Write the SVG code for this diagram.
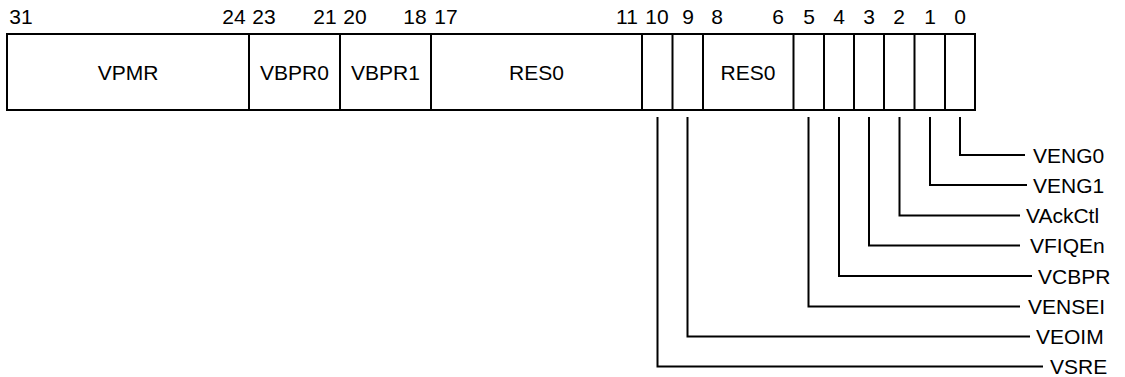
<svg xmlns="http://www.w3.org/2000/svg" width="1125" height="377" viewBox="0 0 1125 377">
<style>
.box{fill:#fff;stroke:#000;stroke-width:2}
.div{stroke:#000;stroke-width:2}
.num{font-family:"Liberation Sans",Arial,sans-serif;font-size:21px;text-anchor:middle;fill:#000}
.lbl{font-family:"Liberation Sans",Arial,sans-serif;font-size:21px;text-anchor:middle;fill:#000}
.fl{font-family:"Liberation Sans",Arial,sans-serif;font-size:21px;fill:#000}
.conn{fill:none;stroke:#000;stroke-width:2}
</style>
<rect width="1125" height="377" fill="#fff"/>
<g id="bitnumbers">
<text class="num" x="21" y="24">31</text>
<text class="num" x="234" y="24">24</text>
<text class="num" x="264" y="24">23</text>
<text class="num" x="325" y="24">21</text>
<text class="num" x="355" y="24">20</text>
<text class="num" x="415" y="24">18</text>
<text class="num" x="446" y="24">17</text>
<text class="num" x="627" y="24">11</text>
<text class="num" x="657" y="24">10</text>
<text class="num" x="688" y="24">9</text>
<text class="num" x="717" y="24">8</text>
<text class="num" x="778" y="24">6</text>
<text class="num" x="809" y="24">5</text>
<text class="num" x="839" y="24">4</text>
<text class="num" x="869" y="24">3</text>
<text class="num" x="899" y="24">2</text>
<text class="num" x="930" y="24">1</text>
<text class="num" x="960" y="24">0</text>
</g>
<g id="register">
<rect class="box" x="7" y="34" width="968" height="76"/>
<line class="div" x1="249" y1="34" x2="249" y2="110"/>
<line class="div" x1="340" y1="34" x2="340" y2="110"/>
<line class="div" x1="431" y1="34" x2="431" y2="110"/>
<line class="div" x1="642" y1="34" x2="642" y2="110"/>
<line class="div" x1="672.5" y1="34" x2="672.5" y2="110"/>
<line class="div" x1="703" y1="34" x2="703" y2="110"/>
<line class="div" x1="793.5" y1="34" x2="793.5" y2="110"/>
<line class="div" x1="824" y1="34" x2="824" y2="110"/>
<line class="div" x1="854" y1="34" x2="854" y2="110"/>
<line class="div" x1="884" y1="34" x2="884" y2="110"/>
<line class="div" x1="914.5" y1="34" x2="914.5" y2="110"/>
<line class="div" x1="945" y1="34" x2="945" y2="110"/>
</g>
<g id="field-VPMR"><text class="lbl" x="128" y="80">VPMR</text></g>
<g id="field-VBPR0"><text class="lbl" x="294.5" y="80">VBPR0</text></g>
<g id="field-VBPR1"><text class="lbl" x="385.5" y="80">VBPR1</text></g>
<g id="field-RES0-a"><text class="lbl" x="536.5" y="80">RES0</text></g>
<g id="field-RES0-b"><text class="lbl" x="748" y="80">RES0</text></g>
<g id="connectors">
<polyline class="conn" points="960,117 960,155 1025,155"/>
<polyline class="conn" points="930,117 930,185 1027,185"/>
<polyline class="conn" points="899.5,117 899.5,215.5 1020,215.5"/>
<polyline class="conn" points="869,117 869,245.5 1020,245.5"/>
<polyline class="conn" points="839,117 839,276 1032,276"/>
<polyline class="conn" points="808.5,117 808.5,306.5 1020,306.5"/>
<polyline class="conn" points="687.5,117 687.5,336.5 1030,336.5"/>
<polyline class="conn" points="657.5,117 657.5,366.5 1043,366.5"/>
</g>
<g id="label-VENG0"><text class="fl" x="1033" y="162.5">VENG0</text></g>
<g id="label-VENG1"><text class="fl" x="1033" y="192.5">VENG1</text></g>
<g id="label-VAckCtl"><text class="fl" x="1026" y="223">VAckCtl</text></g>
<g id="label-VFIQEn"><text class="fl" x="1030" y="253">VFIQEn</text></g>
<g id="label-VCBPR"><text class="fl" x="1038" y="283.5">VCBPR</text></g>
<g id="label-VENSEI"><text class="fl" x="1028" y="314">VENSEI</text></g>
<g id="label-VEOIM"><text class="fl" x="1036" y="344">VEOIM</text></g>
<g id="label-VSRE"><text class="fl" x="1050" y="374">VSRE</text></g>
</svg>
